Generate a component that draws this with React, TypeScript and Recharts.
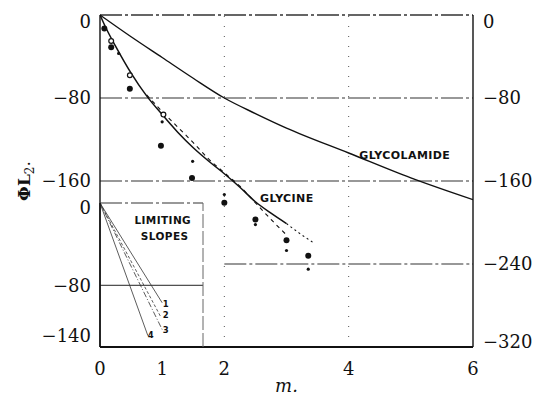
import {
  ComposedChart,
  LineChart,
  Line,
  Scatter,
  XAxis,
  YAxis,
  ReferenceLine,
  ReferenceDot,
  Label,
} from "recharts"

// main plot: phi L2 against m
const xTicks = [0, 1, 2, 4, 6]
const leftTicks = [0, -80, -160]
const rightTicks = [0, -80, -160, -240, -320]

const glycolamideCurve = [
  { m: 0, v: 0 },
  { m: 0.5, v: -21 },
  { m: 1, v: -41 },
  { m: 1.5, v: -61 },
  { m: 2, v: -80 },
  { m: 2.5, v: -95 },
  { m: 3, v: -109 },
  { m: 4, v: -133 },
  { m: 5, v: -157 },
  { m: 6, v: -178 },
]

const glycineSolid = [
  { m: 0, v: 0 },
  { m: 0.1, v: -13 },
  { m: 0.25, v: -30 },
  { m: 0.5, v: -56 },
  { m: 0.75, v: -78 },
  { m: 1, v: -96 },
  { m: 1.25, v: -113 },
  { m: 1.5, v: -128 },
  { m: 1.75, v: -141 },
  { m: 2, v: -153 },
  { m: 2.25, v: -166 },
  { m: 2.5, v: -180 },
  { m: 2.75, v: -191 },
  { m: 3, v: -201 },
]

const glycineDashed = [
  { m: 0.75, v: -77 },
  { m: 1, v: -93 },
  { m: 1.25, v: -108 },
  { m: 1.5, v: -123 },
  { m: 1.75, v: -139 },
  { m: 2, v: -152 },
  { m: 2.25, v: -165 },
  { m: 2.5, v: -181 },
  { m: 2.75, v: -197 },
  { m: 3, v: -212 },
]

const glycineDotted = [
  { m: 3, v: -201 },
  { m: 3.2, v: -210 },
  { m: 3.42, v: -219 },
]

const bigDots = [
  { m: 0.07, v: -13 },
  { m: 0.18, v: -31 },
  { m: 0.48, v: -71 },
  { m: 0.98, v: -126 },
  { m: 1.48, v: -157 },
  { m: 2.0, v: -181 },
  { m: 2.5, v: -197 },
  { m: 3.0, v: -217 },
  { m: 3.35, v: -232 },
]

const smallDots = [
  { m: 0.3, v: -37 },
  { m: 1.0, v: -103 },
  { m: 1.49, v: -141 },
  { m: 2.0, v: -173 },
  { m: 2.5, v: -202 },
  { m: 3.0, v: -227 },
  { m: 3.35, v: -245 },
]

const openCircles = [
  { m: 0.18, v: -25 },
  { m: 0.48, v: -58 },
  { m: 1.02, v: -96 },
]

// inset: limiting slopes
const insetMaxM = 1.657
const insetTicks = [0, -80, -140]
const slope1 = [{ m: 0, v: 0 }, { m: 1.0, v: -97 }]
const slope2 = [{ m: 0, v: 0 }, { m: 0.98, v: -111 }]
const slope3 = [{ m: 0, v: 0 }, { m: 1.0, v: -123 }]
const slope4 = [{ m: 0, v: 0 }, { m: 0.77, v: -129 }]
const slopeLabels = [
  { m: 1.06, v: -101, text: "1" },
  { m: 1.06, v: -112, text: "2" },
  { m: 1.06, v: -126, text: "3" },
  { m: 0.82, v: -131, text: "4" },
]

const INK = "#111"
const SERIF = "'DejaVu Serif', serif"
const SANS = "'DejaVu Sans', sans-serif"

const fmt = (v: number) => (v < 0 ? `\u2212${-v}` : `${v}`)

function makeTick(nudges: Record<number, number>, dy: string) {
  return (props: any) => {
    const { x, y, payload, textAnchor } = props
    const nudge = nudges[payload.value] || 0
    return (
      <text
        x={x}
        y={y + nudge}
        dy={dy}
        textAnchor={textAnchor}
        fill={INK}
        fontFamily={SERIF}
        fontSize={18}
      >
        {fmt(payload.value)}
      </text>
    )
  }
}

const annot = (text: string, size = 11, anchor: "start" | "middle" = "start") =>
  (props: any) => {
    const { viewBox } = props
    return (
      <text
        x={viewBox.x}
        y={viewBox.y}
        textAnchor={anchor}
        fill={INK}
        fontFamily={SANS}
        fontWeight="bold"
        fontSize={size}
        letterSpacing={0.4}
      >
        {text}
      </text>
    )
  }

const dot = (r: number, open = false) => (p: any) => (
  <circle
    cx={p.cx}
    cy={p.cy}
    r={r}
    fill={open ? "#fff" : INK}
    stroke={INK}
    strokeWidth={open ? 1.2 : 0}
  />
)

const gridDash = "22 3 3 3"

export default function App() {
  return (
    <div
      style={{
        position: "absolute",
        left: 0,
        top: 0,
        width: 542,
        height: 401,
        background: "#fff",
      }}
    >
      <ComposedChart
        width={542}
        height={401}
        margin={{ top: 15, right: 0, bottom: 24, left: 40 }}
      >
        <XAxis
          type="number"
          dataKey="m"
          domain={[0, 6]}
          ticks={xTicks}
          allowDataOverflow
          height={30}
          tickLine={false}
          tickSize={0}
          tickMargin={15}
          axisLine={{ stroke: INK, strokeWidth: 1.8 }}
          tick={makeTick({}, "0.71em")}
        >
          <Label
            content={(p: any) => (
              <text
                x={p.viewBox.x + p.viewBox.width / 2}
                y={p.viewBox.y + 45}
                textAnchor="middle"
                fontFamily={SERIF}
                fontStyle="italic"
                fontSize={18}
                fill={INK}
              >
                m.
              </text>
            )}
          />
        </XAxis>
        <YAxis
          yAxisId="L"
          type="number"
          domain={[-320, 0]}
          ticks={leftTicks}
          width={60}
          tickLine={false}
          tickSize={0}
          tickMargin={9}
          axisLine={{ stroke: INK, strokeWidth: 1.4 }}
          tick={makeTick({ 0: 7 }, "0.35em")}
        >
          <Label
            content={(p: any) => {
              const cx = p.viewBox.x - 16
              const cy = p.viewBox.y + p.viewBox.height / 2
              return (
                <text
                  x={cx}
                  y={cy}
                  transform={`rotate(-90, ${cx}, ${cy})`}
                  textAnchor="middle"
                  dy="0.35em"
                  fontFamily={SERIF}
                  fontSize={17}
                  fill={INK}
                >
                  <tspan fontWeight="bold">ΦL</tspan>
                  <tspan fontSize={12} dy="4">2</tspan>
                  <tspan dy="-4">.</tspan>
                </text>
              )
            }}
          />
        </YAxis>
        <YAxis
          yAxisId="R"
          orientation="right"
          type="number"
          domain={[-320, 0]}
          ticks={rightTicks}
          width={69}
          tickLine={false}
          tickSize={0}
          tickMargin={10}
          axisLine={{ stroke: INK, strokeWidth: 1.4 }}
          tick={makeTick({ 0: 7, [-320]: -5 }, "0.35em")}
        />

        <ReferenceLine yAxisId="L" y={0} stroke="#333" strokeWidth={1.3} strokeDasharray={gridDash} />
        <ReferenceLine yAxisId="L" y={-80} stroke="#333" strokeWidth={1.1} strokeDasharray={gridDash} />
        <ReferenceLine yAxisId="L" y={-160} stroke="#333" strokeWidth={1.1} strokeDasharray={gridDash} />
        <ReferenceLine
          yAxisId="L"
          segment={[{ x: 2, y: -240 }, { x: 6, y: -240 }]}
          stroke="#333"
          strokeWidth={1.1}
          strokeDasharray={gridDash}
        />
        <ReferenceLine yAxisId="L" x={2} stroke="#555" strokeWidth={1} strokeDasharray="1 9" />
        <ReferenceLine yAxisId="L" x={4} stroke="#555" strokeWidth={1} strokeDasharray="1 9" />

        <Line yAxisId="R" data={glycolamideCurve} dataKey="v" type="monotone" stroke={INK} strokeWidth={1.4} dot={false} isAnimationActive={false} />
        <Line yAxisId="L" data={glycineSolid} dataKey="v" type="monotone" stroke={INK} strokeWidth={1.5} dot={false} isAnimationActive={false} />
        <Line yAxisId="L" data={glycineDashed} dataKey="v" type="monotone" stroke={INK} strokeWidth={1.1} strokeDasharray="4 4" dot={false} isAnimationActive={false} />
        <Line yAxisId="L" data={glycineDotted} dataKey="v" type="monotone" stroke={INK} strokeWidth={1.1} strokeDasharray="2 3" dot={false} isAnimationActive={false} />

        <Scatter yAxisId="L" data={bigDots} dataKey="v" shape={dot(3)} isAnimationActive={false} />
        <Scatter yAxisId="L" data={smallDots} dataKey="v" shape={dot(1.6)} isAnimationActive={false} />
        <Scatter yAxisId="L" data={openCircles} dataKey="v" shape={dot(2.4, true)} isAnimationActive={false} />

        <ReferenceDot yAxisId="L" x={4.17} y={-139} r={0} label={annot("GLYCOLAMIDE")} />
        <ReferenceDot yAxisId="L" x={2.574} y={-180} r={0} label={annot("GLYCINE")} />
      </ComposedChart>

      <div style={{ position: "absolute", left: 0, top: 190 }}>
        <LineChart
          width={210}
          height={160}
          margin={{ top: 13, right: 7, bottom: 3, left: 0 }}
        >
          <XAxis type="number" dataKey="m" domain={[0, insetMaxM]} allowDataOverflow hide />
          <YAxis
            type="number"
            domain={[-140, 0]}
            ticks={insetTicks}
            width={100}
            tickLine={false}
            tickSize={0}
            tickMargin={9}
            axisLine={{ stroke: INK, strokeWidth: 1.4 }}
            tick={makeTick({ 0: 5, [-140]: -5 }, "0.35em")}
          />
          <ReferenceLine y={0} stroke="#333" strokeWidth={1.2} strokeDasharray={gridDash} />
          <ReferenceLine y={-80} stroke="#222" strokeWidth={1} />
          <ReferenceLine x={insetMaxM} stroke="#666" strokeWidth={1} strokeDasharray="14 3" />

          <Line data={slope1} dataKey="v" type="linear" stroke="#333" strokeWidth={0.8} dot={false} isAnimationActive={false} />
          <Line data={slope2} dataKey="v" type="linear" stroke="#333" strokeWidth={0.8} strokeDasharray="3 2" dot={false} isAnimationActive={false} />
          <Line data={slope3} dataKey="v" type="linear" stroke="#333" strokeWidth={0.8} strokeDasharray="6 2 1 2" dot={false} isAnimationActive={false} />
          <Line data={slope4} dataKey="v" type="linear" stroke="#333" strokeWidth={0.8} dot={false} isAnimationActive={false} />

          <ReferenceDot x={1.01} y={-20.5} r={0} label={annot("LIMITING", 10.5, "middle")} />
          <ReferenceDot x={1.04} y={-36} r={0} label={annot("SLOPES", 10.5, "middle")} />
          {slopeLabels.map((s) => (
            <ReferenceDot key={s.text} x={s.m} y={s.v} r={0} label={annot(s.text, 8.5, "middle")} />
          ))}
        </LineChart>
      </div>
    </div>
  )
}
